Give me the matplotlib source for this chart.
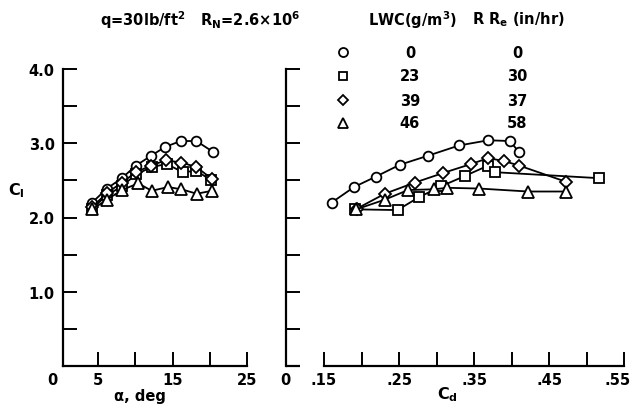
import matplotlib
matplotlib.use("Agg")
import matplotlib.pyplot as plt
from matplotlib.transforms import ScaledTranslation

plt.rcParams['font.family'] = ['DejaVu Sans']
plt.rcParams['font.weight'] = 'bold'
plt.rcParams['mathtext.fontset'] = 'dejavusans'
plt.rcParams['mathtext.default'] = 'bf'

# ---- data ----
# left panel: lift coefficient vs angle of attack
alpha_circ = [4.2, 6.2, 8.2, 10.1, 12.1, 14.0, 16.1, 18.2, 20.5]
cl_circ_l = [2.20, 2.39, 2.53, 2.70, 2.83, 2.95, 3.03, 3.03, 2.88]
alpha_sq = [4.2, 6.2, 8.2, 10.1, 12.2, 14.2, 16.4, 18.2, 20.2]
cl_sq_l = [2.12, 2.30, 2.42, 2.58, 2.68, 2.72, 2.61, 2.63, 2.50]
alpha_dia = [4.2, 6.2, 8.2, 10.1, 12.1, 14.1, 16.2, 18.2, 20.3]
cl_dia_l = [2.14, 2.33, 2.47, 2.61, 2.70, 2.77, 2.74, 2.68, 2.52]
alpha_tri = [4.2, 6.2, 8.2, 10.4, 12.2, 14.4, 16.2, 18.25, 20.3]
cl_tri_l = [2.11, 2.24, 2.37, 2.46, 2.36, 2.41, 2.38, 2.32, 2.36]

# right panel: lift coefficient vs drag coefficient
cd_circ = [0.160, 0.190, 0.219, 0.251, 0.288, 0.330, 0.369, 0.398, 0.410]
cl_circ_r = [2.20, 2.41, 2.55, 2.71, 2.83, 2.97, 3.04, 3.03, 2.88]
cd_sq = [0.191, 0.248, 0.276, 0.306, 0.338, 0.369, 0.378, 0.516]
cl_sq_r = [2.11, 2.10, 2.27, 2.42, 2.56, 2.70, 2.61, 2.53]
cd_dia = [0.194, 0.231, 0.271, 0.309, 0.346, 0.369, 0.390, 0.410, 0.473]
cl_dia_r = [2.12, 2.32, 2.47, 2.60, 2.72, 2.80, 2.76, 2.70, 2.48]
cd_tri = [0.193, 0.231, 0.262, 0.297, 0.314, 0.357, 0.422, 0.472]
cl_tri_r = [2.11, 2.24, 2.37, 2.38, 2.40, 2.39, 2.35, 2.35]

legend_markers = ['o', 's', 'D', '^']
lwc_labels = ['0', '23', '39', '46']
rre_labels = ['0', '30', '37', '58']

W, H = 632, 410
fig = plt.figure(figsize=(W / 100, H / 100), dpi=100)

def ax_rect(x0, x1, ytop, ybot):
    return [x0 / W, 1 - ybot / H, (x1 - x0) / W, (ybot - ytop) / H]

axL = fig.add_axes(ax_rect(63, 247, 70, 367))
axR = fig.add_axes(ax_rect(286, 624, 70, 367))

mk = dict(mfc='white', mec='black', mew=1.3, color='black', lw=1.3)
sizes = {'o': 7, 's': 6.5, 'D': 6, '^': 8}

for x, y, m in [(alpha_circ, cl_circ_l, 'o'), (alpha_sq, cl_sq_l, 's'),
                (alpha_dia, cl_dia_l, 'D'), (alpha_tri, cl_tri_l, '^')]:
    axL.plot(x, y, marker=m, ms=sizes[m], **mk)
for x, y, m in [(cd_circ, cl_circ_r, 'o'), (cd_sq, cl_sq_r, 's'),
                (cd_dia, cl_dia_r, 'D'), (cd_tri, cl_tri_r, '^')]:
    axR.plot(x, y, marker=m, ms=sizes[m], **mk)

fs = 10.5
for ax in (axL, axR):
    ax.set_ylim(0, 4.0)
    ax.spines['top'].set_visible(False)
    ax.spines['right'].set_visible(False)
    for s in ('left', 'bottom'):
        ax.spines[s].set_linewidth(1.6)
    ax.tick_params(direction='in', length=10, width=1.4, labelsize=fs)
    ax.set_yticks([0.5, 1.0, 1.5, 2.0, 2.5, 3.0, 3.5, 4.0])

axL.set_yticklabels(['', '1.0', '', '2.0', '', '3.0', '', '4.0'])
axL.tick_params(axis='y', pad=6)
axL.set_xlim(0.3, 25)
axL.set_xticks([5, 10, 15, 20, 25])
axL.set_xticklabels(['5', '', '15', '', '25'])
axL.tick_params(axis='x', pad=4)

axR.set_yticklabels([])
axR.set_xlim(0.0993, 0.55)
axR.set_xticks([0.15, 0.20, 0.25, 0.30, 0.35, 0.40, 0.45, 0.50, 0.55])
axR.set_xticklabels(['.15', '', '.25', '', '.35', '', '.45', '', '.55'])
axR.tick_params(axis='x', pad=4)
last = axR.get_xticklabels()[-1]
last.set_horizontalalignment('right')
last.set_transform(last.get_transform() + ScaledTranslation(7 / 100, 0, fig.dpi_scale_trans))
axR.spines['bottom'].set_bounds(0.15, 0.55)
axR.plot([0.0993, 0.118], [0, 0], color='black', lw=1.6, clip_on=False,
         solid_capstyle='butt')

# origin labels
fig.text(52 / W, 1 - 381 / H, '0', ha='center', va='center', fontsize=fs)
fig.text(285 / W, 1 - 381 / H, '0', ha='center', va='center', fontsize=fs)

# axis labels
fig.text(140 / W, 1 - 397 / H, 'α, deg', ha='center', va='center', fontsize=fs)
fig.text(447 / W, 1 - 395 / H, r'C$_\mathrm{d}$', ha='center', va='center', fontsize=fs + 1)
fig.text(16 / W, 1 - 191 / H, r'C$_\mathrm{l}$', ha='center', va='center', fontsize=fs + 1)

# header texts
fig.text(200 / W, 1 - 20 / H, r'q=30lb/ft$^2$   R$_\mathrm{N}$=2.6×10$^6$',
         ha='center', va='center', fontsize=fs)
fig.text(413 / W, 1 - 20 / H, r'LWC(g/m$^3$)', ha='center', va='center', fontsize=fs)
fig.text(518 / W, 1 - 20 / H, r'R R$_\mathrm{e}$ (in/hr)', ha='center', va='center', fontsize=fs)

# legend-like table
row_y = [53, 77, 101, 124]
for yy, m, l1, l2 in zip(row_y, legend_markers, lwc_labels, rre_labels):
    fig.lines.append(plt.Line2D([343 / W], [1 - yy / H], marker=m, ms=sizes[m] - 0.5,
                                mfc='white', mec='black', mew=1.3, ls='none',
                                transform=fig.transFigure))
    fig.text(410 / W, 1 - yy / H, l1, ha='center', va='center', fontsize=fs)
    fig.text(517 / W, 1 - yy / H, l2, ha='center', va='center', fontsize=fs)

fig.savefig('out.png', dpi=100)
